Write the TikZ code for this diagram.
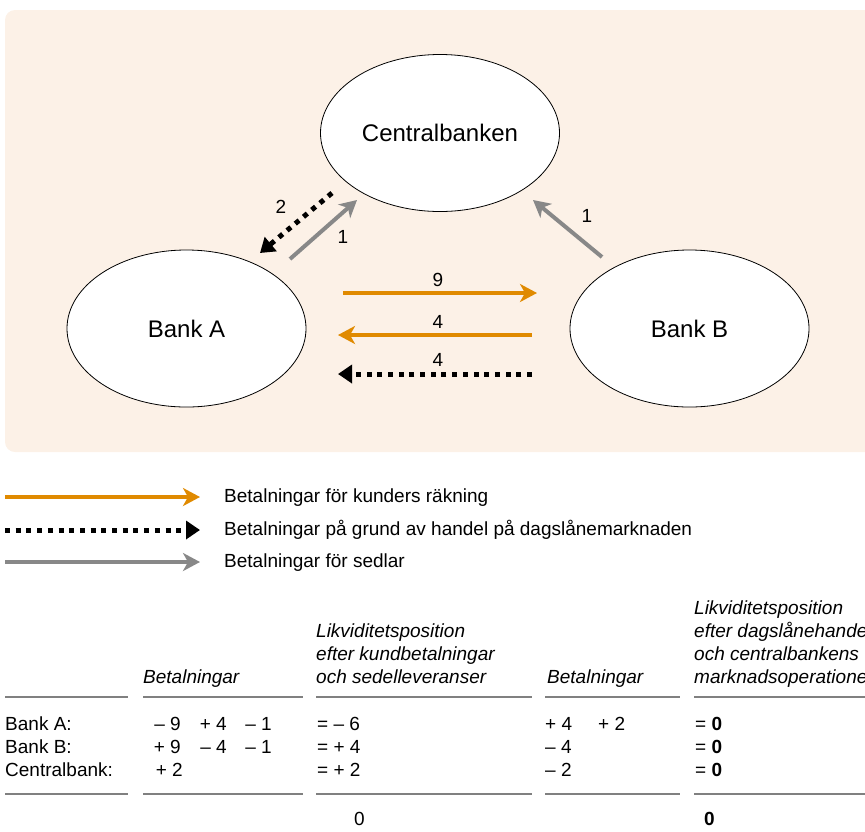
\documentclass[tikz,border=0pt]{standalone}
\usepackage{fontspec}
\setmainfont{Liberation Sans}
\usetikzlibrary{arrows.meta,shapes.geometric}
\definecolor{bgc}{HTML}{FCF1E7}
\definecolor{org}{HTML}{E08A00}
\definecolor{gry}{HTML}{888888}
\definecolor{rulec}{HTML}{808080}
\begin{document}
\begin{tikzpicture}[x=1pt,y=-1pt,
  bank/.style={ellipse, draw=black, line width=0.8pt, fill=white, minimum width=239pt, minimum height=157pt, inner sep=0pt, font=\fontsize{24}{28}\selectfont},
  orgarrow/.style={draw=org, line width=4pt, -{Stealth[length=17pt,width=18pt,inset=5pt]}},
  gryarrow/.style={draw=gry, line width=4pt, -{Stealth[length=17pt,width=18pt,inset=5pt]}},
  dotarrow/.style={draw=black, line width=5pt, dash pattern=on 5pt off 5.7pt, -{Triangle[length=14pt,width=18pt]}},
  num/.style={font=\fontsize{19}{22}\selectfont, inner sep=0pt},
  txt/.style={font=\fontsize{19}{22}\selectfont, inner sep=0pt, anchor=base west},
  txtr/.style={font=\fontsize{19}{22}\selectfont, inner sep=0pt, anchor=base east},
  hdr/.style={font=\fontsize{19}{22}\selectfont\itshape, inner sep=0pt, anchor=base west},
  tabrule/.style={draw=rulec, line width=2pt}
]
\useasboundingbox (0,0) rectangle (865,831);
\fill[bgc, rounded corners=10pt] (5,10) rectangle (885,452);

% ellipses
\node[bank] (cb) at (440,133) {Centralbanken};
\node[bank] (ba) at (186.5,328.5) {Bank A};
\node[bank] (bb) at (689.5,328.5) {Bank B};

% arrow endpoints
\coordinate (o9s) at (343,293); \coordinate (o9e) at (537,293);
\coordinate (o4s) at (532,335); \coordinate (o4e) at (338,335);
\coordinate (d4s) at (532,374); \coordinate (d4e) at (338,374);
\coordinate (gas) at (290,259); \coordinate (gae) at (357,200);
\coordinate (d2s) at (332,193); \coordinate (d2e) at (260,253);
\coordinate (gbs) at (602,257); \coordinate (gbe) at (533,200);

\draw[orgarrow] (o9s) -- (o9e);
\draw[orgarrow] (o4s) -- (o4e);
\draw[dotarrow] (d4s) -- (d4e);
\draw[gryarrow] (gas) -- (gae);
\draw[dotarrow] (d2s) -- (d2e);
\draw[gryarrow] (gbs) -- (gbe);

\node[num] (l9) at (438,280) {9};
\node[num] (l4a) at (438,322) {4};
\node[num] (l4b) at (438,360) {4};
\node[num] (l2) at (281,207) {2};
\node[num] (l1a) at (343,237) {1};
\node[num] (l1b) at (587,216) {1};

% legend
\coordinate (lg1s) at (5,497); \coordinate (lg1e) at (200,497);
\coordinate (lg2s) at (5,530); \coordinate (lg2e) at (200,530);
\coordinate (lg3s) at (5,562); \coordinate (lg3e) at (200,562);
\draw[orgarrow] (lg1s) -- (lg1e);
\draw[dotarrow] (lg2s) -- (lg2e);
\draw[gryarrow] (lg3s) -- (lg3e);
\node[txt] (lt1) at (224,502) {Betalningar för kunders räkning};
\node[txt] (lt2) at (224,535) {Betalningar på grund av handel på dagslånemarknaden};
\node[txt] (lt3) at (224,567) {Betalningar för sedlar};

% table headers
\node[hdr] (h2) at (143,683) {Betalningar};
\node[hdr] (h3a) at (316,637) {Likviditetsposition};
\node[hdr] (h3b) at (316,660) {efter kundbetalningar};
\node[hdr] (h3c) at (316,683) {och sedelleveranser};
\node[hdr] (h4) at (547,683) {Betalningar};
\node[hdr] (h5a) at (694,614) {Likviditetsposition};
\node[hdr] (h5b) at (694,637) {efter dagslånehandel};
\node[hdr] (h5c) at (694,660) {och centralbankens};
\node[hdr] (h5d) at (694,683) {marknadsoperationer};

% rules
\foreach \a/\b in {5/128,143/303,316/532,545/680,694/870}{
  \draw[tabrule] (\a,697) -- (\b,697);
  \draw[tabrule] (\a,794) -- (\b,794);
}

% rows
\node[txt] (ra) at (5,730) {Bank A:};
\node[txt] (rb) at (5,753) {Bank B:};
\node[txt] (rc) at (5,776) {Centralbank:};

\node[txtr] (a1) at (181,730) {– 9};
\node[txtr] (a2) at (227,730) {+ 4};
\node[txtr] (a3) at (272,730) {– 1};
\node[txtr] (b1) at (181,753) {+ 9};
\node[txtr] (b2) at (227,753) {– 4};
\node[txtr] (b3) at (272,753) {– 1};
\node[txtr] (c1) at (183,776) {+ 2};

\node[txt] (a4) at (317,730) {= – 6};
\node[txt] (b4) at (317,753) {= + 4};
\node[txt] (c4) at (317,776) {= + 2};

\node[txt] (a5) at (545,730) {+ 4};
\node[txt] (a6) at (598,730) {+ 2};
\node[txt] (b5) at (545,753) {– 4};
\node[txt] (c5) at (545,776) {– 2};

\node[txt] (a7) at (695,730) {= \textbf{0}};
\node[txt] (b7) at (695,753) {= \textbf{0}};
\node[txt] (c7) at (695,776) {= \textbf{0}};

\node[txt] (s1) at (354,825) {0};
\node[txt] (s2) at (704,825) {\textbf{0}};
\end{tikzpicture}
\end{document}
